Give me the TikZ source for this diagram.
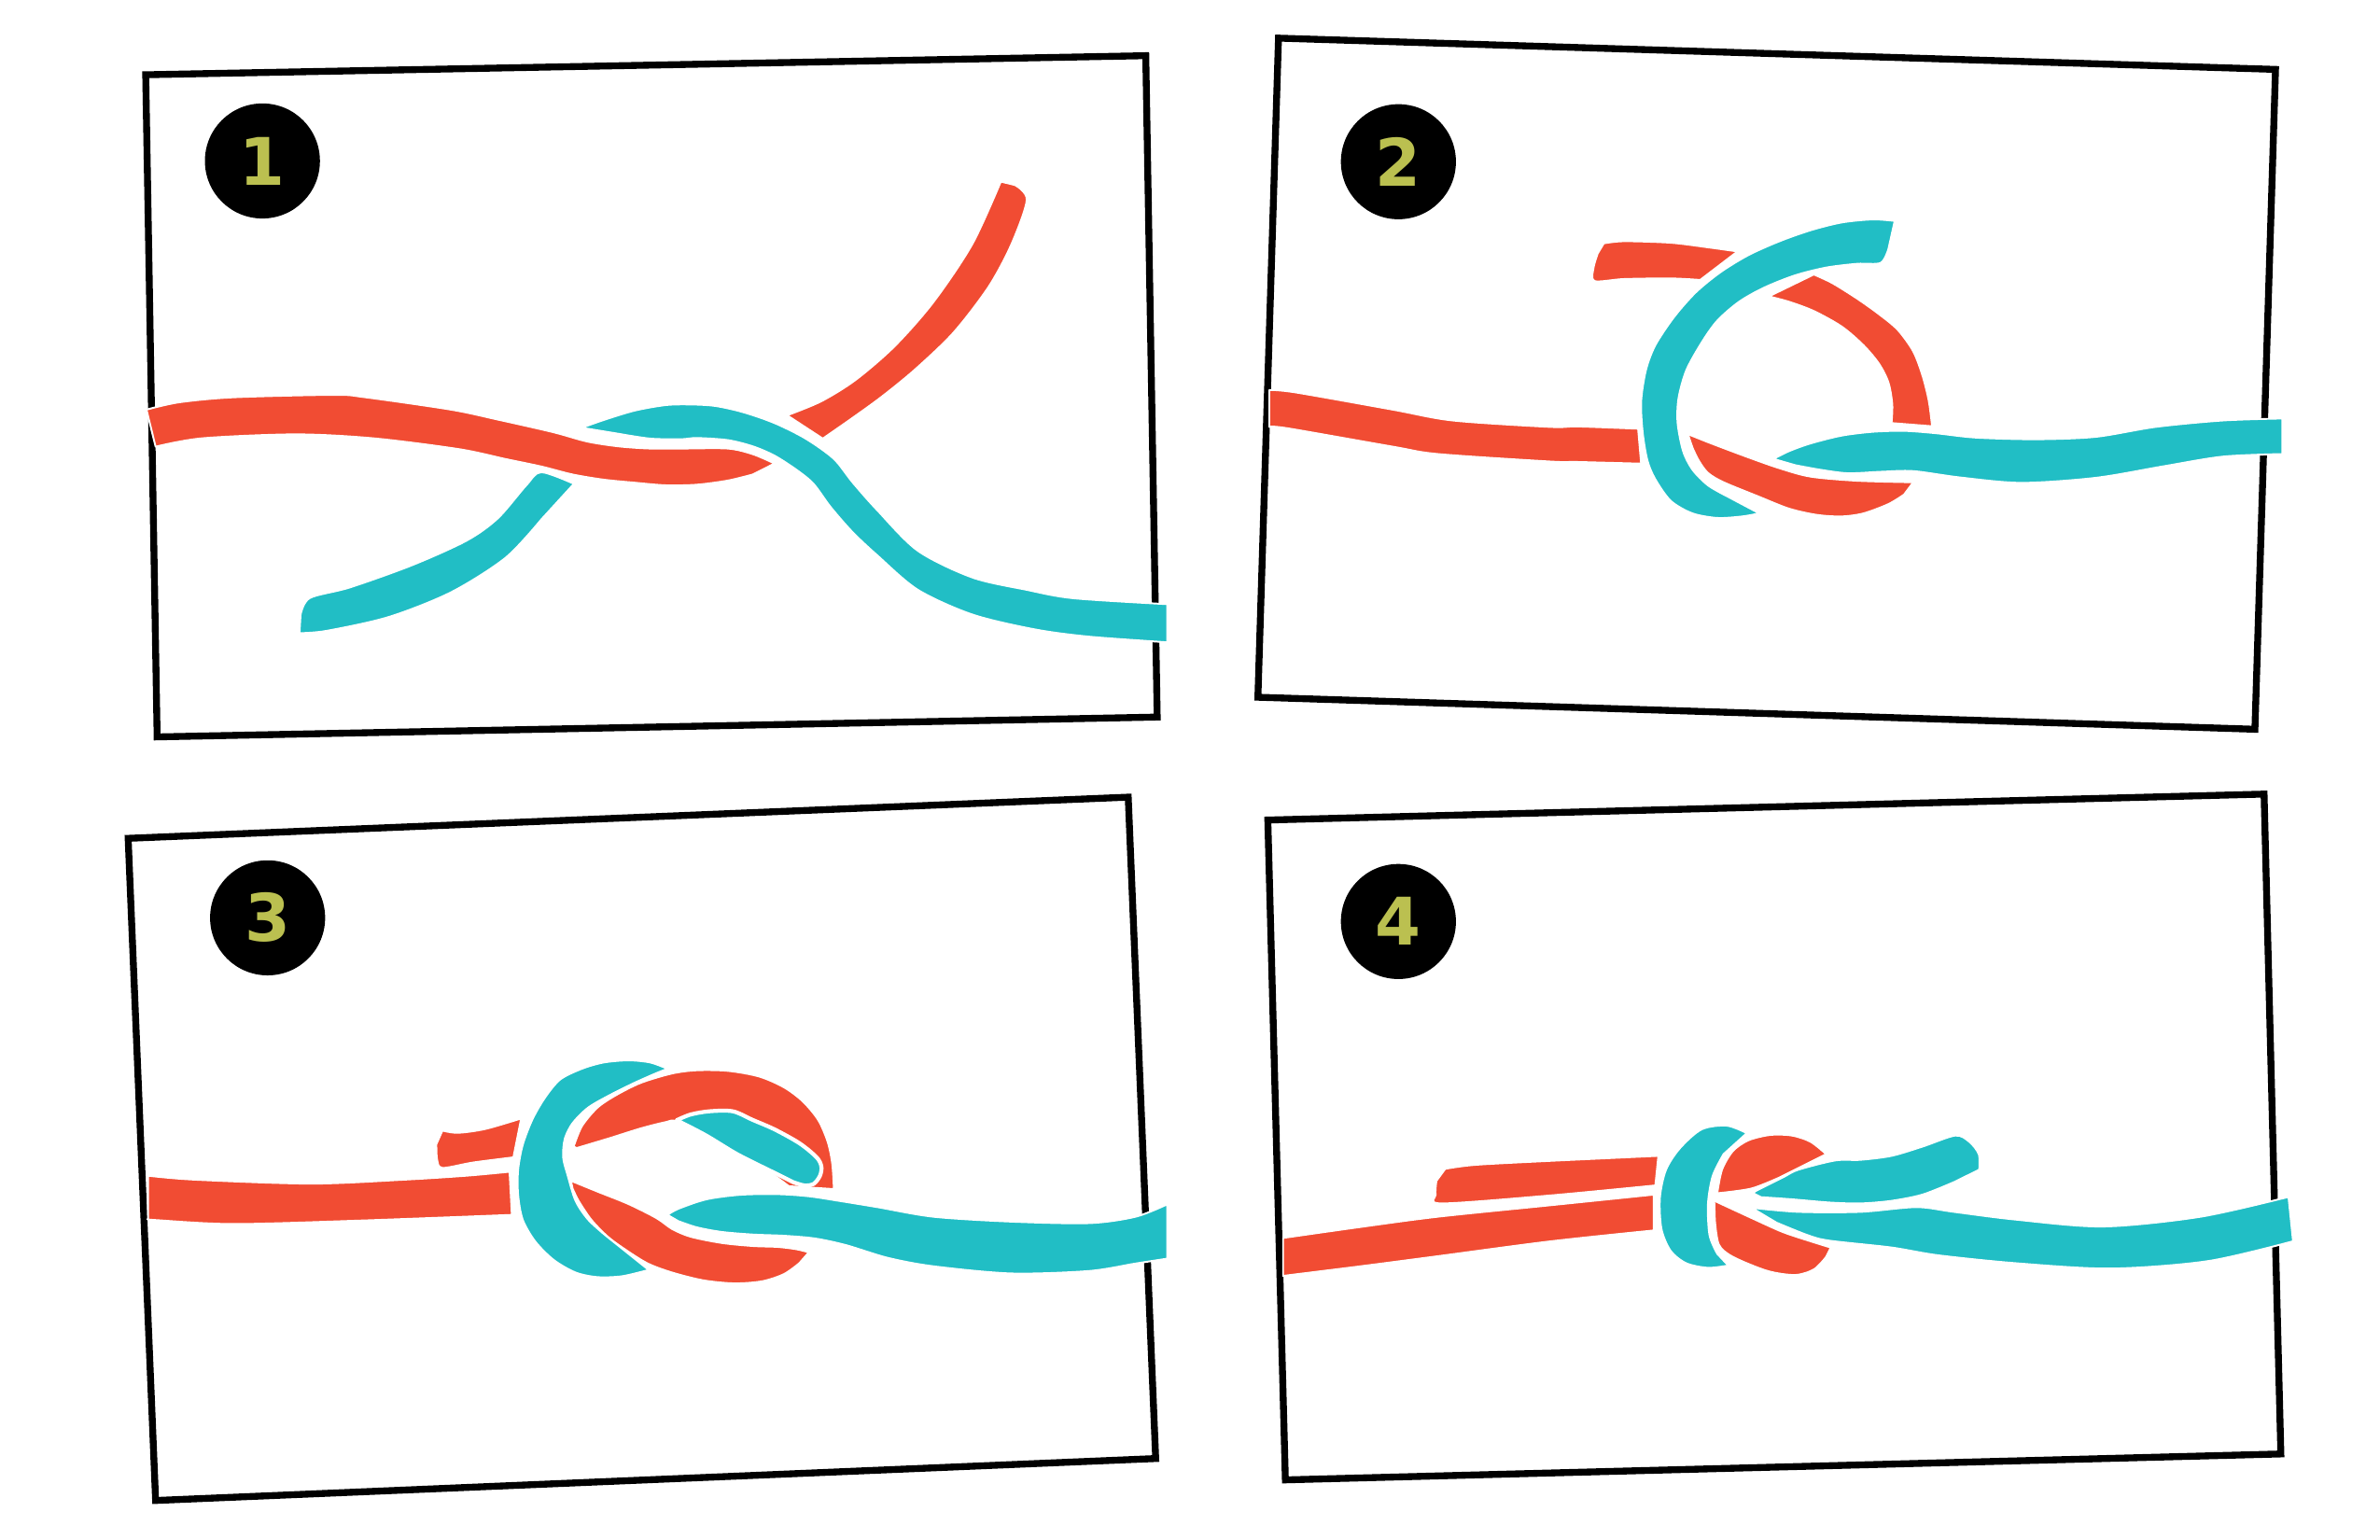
\documentclass[tikz,border=0pt]{standalone}
\usepackage{fontspec}
\newfontfamily\digitfont{DejaVu Sans}
\definecolor{ropered}{RGB}{241,76,51}
\definecolor{ropeteal}{RGB}{33,190,197}
\definecolor{numolive}{RGB}{187,192,80}
\tikzset{
  rope/.style={draw=white, line width=1.2pt, line join=round},
  frame/.style={draw=black, line width=4.5pt, line join=miter},
  badge/.style={circle, fill=black, minimum size=75.4pt, inner sep=0pt,
    text=numolive, font=\digitfont\bfseries\fontsize{43}{43}\selectfont}
}
\newcommand{\ropepiece}[3]{\filldraw[rope, fill=#1] plot[smooth, tension=0.5] coordinates {#2} -- plot[smooth, tension=0.5] coordinates {#3} -- cycle;}
\begin{document}
\begin{tikzpicture}[x=1pt, y=-1pt]
\useasboundingbox (0,0) rectangle (1560,1009.4);
\fill[white] (0,0) rectangle (1560,1009.4);

% ---------- frames ----------
\draw[frame] (95.5,49) -- (751,36.5) -- (758.5,470) -- (103,483) -- cycle;
\draw[frame] (838,25) -- (1491.5,45.5) -- (1478,478) -- (824.5,457) -- cycle;
\draw[frame] (84,549.5) -- (739.5,522.5) -- (757.5,956) -- (102,983.5) -- cycle;
\draw[frame] (831,537.5) -- (1484,520.5) -- (1495,953) -- (842.5,970) -- cycle;

% ---------- badges ----------
\node[badge] (b1) at (172,105.5) {1};
\node[badge] (b2) at (916.6,106) {2};
\node[badge] (b3) at (175.4,601.6) {3};
\node[badge] (b4) at (916.6,604) {4};

% ---------- panel 1 ----------
% teal lower-left end
\ropepiece{ropeteal}{(197,403) (203,392) (229.4,385) (270.2,370.4) (305.9,354.3) (326.3,339.7) (345,318) (354.8,309.5) (376.2,317.1)}
  {(354.8,340.5) (331.4,365.6) (295.7,388.2) (254.9,404.4) (214.1,413.5) (196.3,415)}
% red upper-right end
\ropepiece{ropered}{(515.9,272.2) (538.3,263) (560.8,249) (586.3,227) (611.8,198) (637.3,160) (656,119)}
  {(665.3,121.3) (673,131) (663,160) (648,188) (625,218) (600,242) (578,260) (558.7,274) (539.3,287.5)}
% red main strand
\ropepiece{ropered}{(96,268.5) (117.3,263.7) (153,260.4) (219.2,258.8) (239.6,260.4) (295.7,268.5) (326.3,275) (354.8,281.4) (367,284.4) (385.4,289.5) (405.8,292.6) (426.2,294) (446.6,294) (477.1,294) (493.5,297.7) (507.7,303.8)}
  {(493.5,311) (477.1,315) (456.8,317.7) (436.4,318.1) (416,316.4) (395.6,314.4) (375.2,311) (354.8,305.8) (331.4,300.9) (300.8,294.4) (244.7,287.3) (193.7,284.7) (132.5,287.3) (102,292.8)}
% teal arc and right strand
\ropepiece{ropeteal}{(381.3,280.4) (395.6,275.3) (416,269.1) (436.4,265.5) (452.7,265.1) (469,266.1) (487.3,270.2) (507.7,277.3) (528.1,287.5) (546.5,300.7) (558.7,316) (575,334.4) (601.6,361) (637.3,378.5) (673,386.6) (703.5,392.1) (765,396)}
  {(765,421) (713.7,417.3) (678,412.5) (637.3,402.8) (601.6,386.6) (575,364) (558.7,348.7) (544.4,332.3) (533.2,317.1) (522,307.9) (507.7,298.7) (493.5,292.6) (477.1,288.5) (456.8,287.1) (446.6,287.9) (426.2,287.5) (405.8,284.4)}

% ---------- panel 2 ----------
\ropepiece{ropered}{(832,255.6) (849.2,257.2) (913,268.5) (952.2,275.6) (1015.9,279.8) (1033.9,279.5) (1073.7,281)}
  {(1075.7,303.9) (1033.9,302.8) (1015.9,302.5) (942.4,297.6) (913,292.8) (844.3,280.8) (832,279.8)}
\ropepiece{ropered}{(1051.2,159.5) (1064.5,158.1) (1095.1,159.1) (1119.5,162.1) (1138.9,164.8)}
  {(1114.4,183.5) (1095.1,182.5) (1064.5,182.9) (1045.1,184.2) (1044.5,175.4) (1047.2,166.2)}
\ropepiece{ropered}{(1188.9,179.9) (1201.1,185.6) (1217.4,195.8) (1231.7,206) (1243.9,216.2) (1254.1,230.4) (1260.3,246.8) (1264.3,263.1) (1266.4,279.4)}
  {(1239.8,277.3) (1240.3,265.1) (1237.8,250.8) (1231.7,238.6) (1221.5,226.4) (1207.2,214.1) (1188.9,203.9) (1172.6,197.8) (1159.3,194.3)}
% teal ring
\ropepiece{ropeteal}{(1241.9,144.8) (1227.6,143.8) (1207.2,145.8) (1186.8,150.9) (1166.4,158.1) (1146,167.2) (1127.7,178.4) (1111.4,191.7) (1097.1,208) (1084.9,226.4) (1078.8,242.7) (1075.7,263.1) (1076.7,283.5) (1079.8,301.8) (1084.9,314) (1095.1,328.3) (1109.3,336.5) (1125.7,339.5) (1142,338.5) (1153.2,336.5)}
  {(1131.5,325) (1119.5,318.1) (1109.4,307.9) (1103.2,295.7) (1099.6,277.3) (1100.2,261) (1105.3,242.7) (1115.5,224.3) (1125.7,210.1) (1139.9,197.8) (1156.2,188.6) (1176.6,180.5) (1197,175.4) (1217.4,172.9) (1232.7,172.3) (1237.8,163.1)}
% teal right strand
\ropepiece{ropeteal}{(1162.4,300.8) (1172.6,295.7) (1186.8,290.6) (1207.2,285.5) (1227.6,283) (1248,282.4) (1268.4,283.9) (1295,286.8) (1334.5,287.9) (1373.7,286.3) (1413,279.8) (1457,275.6) (1496,274.3)}
  {(1496,297.6) (1457,299.3) (1417.8,305.7) (1373.7,313.2) (1325,316.5) (1285,313) (1254.1,308.8) (1233.7,309.2) (1211.3,310.2) (1193,307.9) (1176.6,304.9)}
% red lower arc (over teal ring end and strand tip)
\ropepiece{ropered}{(1106.3,284.5) (1121.6,290.6) (1146.1,299.8) (1166.4,306.9) (1186.8,312.4) (1217.4,315.1) (1254.1,316.1)}
  {(1248,324.2) (1237.8,330.4) (1221.5,336.5) (1207.2,338.5) (1190.9,337.5) (1172.6,333.4) (1152.2,325.3) (1129.7,316.1) (1119.5,310) (1113.4,301.8) (1109.4,293.6)}

% ---------- panel 3 ----------
\ropepiece{ropered}{(97,770.6) (127.5,773.2) (204,775.8) (265,773.2) (305.9,770.6) (334,768)}
  {(335.5,796.3) (237,800) (153,802.3) (102,799.7) (97,799)}
\ropepiece{ropered}{(290,741) (300,742.5) (318,740) (341.6,733.1)}
  {(336.5,758.6) (310,762) (290,765.5) (286.5,760) (286,750)}
% teal ring
\ropepiece{ropeteal}{(437.5,700.5) (426.2,696.4) (412,695) (395.7,696.4) (381.4,700.5) (367.1,707.6) (356.9,719.9) (348.8,734.1) (342.6,750.5) (339.6,766.8) (339.6,783.1) (342.6,799.4) (350.8,813.7) (363,825.9) (377.3,834.1) (391.6,837.1) (407.9,836.5) (425.2,832.4)}
  {(396.7,809.6) (385.5,799.4) (377.3,787.2) (372.2,770.8) (369.1,758.6) (370.2,746.4) (375.3,736.2) (385.5,726) (399.7,717.8) (416,709.7) (430,703.5)}
% red upper arc
\ropepiece{ropered}{(376,751.5) (381.4,738.2) (391.6,726) (403.8,717.8) (420.1,709.7) (440.5,703.6) (456.8,701.5) (477.2,701.9) (497.6,705.6) (513.9,712.7) (526.2,721.9) (536.3,734.1) (542.5,748.4) (545.5,762.7) (546.6,779.4)}
  {(517,777.5) (503.7,768) (483.3,757.6) (462.9,745.3) (443.6,735) (436.4,735.5) (420.1,739.6) (399.7,746) (378,752.5)}
% teal inner end
\filldraw[rope, line width=2.6pt, fill=ropeteal] plot[smooth, tension=0.5] coordinates {(443.6,734.2) (452.7,730.5) (465,728.4) (480.3,728.4) (493.5,734.1) (507.8,740.3) (524.1,749.4) (535.3,758.6) (538.4,764.7) (537.4,770.8) (533.3,776) (527.2,777) (520,774.9)}
  -- plot[smooth, tension=0.5] coordinates {(503.7,766.8) (483.3,756.6) (462.9,744.3) (446,735.5)} -- cycle;
% teal right strand
\ropepiece{ropeteal}{(437.5,796.3) (444.6,792.3) (463,786.1) (485.4,783.1) (509.8,782.7) (530.2,784.1) (550.6,787.2) (575.1,791.2) (611.8,797.5) (662.8,800.7) (713.7,801.7) (744.3,797.5) (765,789.4)}
  {(765,825) (744.3,828.2) (713.7,833.1) (662.8,834.7) (611.8,830) (582,824.5) (554.7,816.2) (534.3,811.8) (513.9,810) (493.5,809.2) (473.1,807.5) (456.8,804.5) (444.6,800.4)}
% red lower arc
\ropepiece{ropered}{(374.2,773.9) (391.6,781) (412,789.2) (430.3,798.4) (440.5,805.5) (452.7,810.6) (473.1,814.7) (493.5,816.7) (509.8,817.3) (522,818.8) (530.2,820.8)}
  {(523.9,828) (513.9,835.1) (499.7,839.8) (481.3,841.2) (460.9,839.2) (440.5,834.1) (424.2,828) (407.9,817.7) (397.7,810) (387.5,799.4) (379.3,787.2) (375.3,779)}

% ---------- panel 4 ----------
\ropepiece{ropered}{(947.3,766.1) (966.9,763.5) (1015.9,760.9) (1087,757.6)}
  {(1085,777) (1015.9,783.6) (945,788.8) (941,783) (941.5,774)}
\ropepiece{ropered}{(841,811.4) (893.3,804) (942.4,797.5) (1015.9,790) (1084,783)}
  {(1084,806.5) (1015.9,813.7) (942.4,823.4) (893.3,829.8) (841,836.3)}
% teal crescent
\ropepiece{ropeteal}{(1145,742.7) (1131.8,737.8) (1115.4,740.2) (1101.2,752.5) (1092,766.7) (1088,785) (1089,805.5) (1095,819.8) (1105.2,828) (1119.5,831) (1132.8,829.5)}
  {(1125.6,821.8) (1120.5,809.6) (1119.5,789) (1122.6,770.8) (1129.7,756.5)}
% red inner lenses
\ropepiece{ropered}{(1125.6,782) (1128.7,766.7) (1135.8,754.5) (1146,747.4) (1160.3,743.9) (1174.6,744.3) (1186.8,748.4) (1197,756.5)}
  {(1166.4,771.8) (1148.1,779) (1127,782)}
\ropepiece{ropered}{(1123.6,787) (1148,798.3) (1168.5,807.5) (1186.8,813.6) (1200,817.7)}
  {(1197,823.8) (1189,832) (1176.6,835.7) (1158.3,833) (1135.8,823.8) (1126.6,815.7) (1124,799.4)}
% teal hook
\ropepiece{ropeteal}{(1149,782) (1152,780) (1168.5,771.8) (1178.7,766.7) (1203,760.6) (1219.4,760.2) (1239.8,757.6) (1260.2,751.5) (1281.6,744.3) (1290.8,748.4) (1297,756.5) (1297.3,766.7)}
  {(1280.6,774.9) (1260.2,783) (1239.8,787.1) (1219.4,788.8) (1199,788.2) (1174.6,786.1) (1154.2,784.7)}
% teal main
\ropepiece{ropeteal}{(1148,791.6) (1178.7,794.3) (1219.4,794.3) (1256.1,791.2) (1280.6,794.3) (1321.4,799.4) (1378.6,803.9) (1442.4,797.5) (1500,784.5)}
  {(1503,813.6) (1447.3,826.6) (1383.5,831.5) (1321.4,828) (1270.4,822.8) (1239.8,817.7) (1199,813.2) (1184.8,809.6) (1164.4,801.4)}
\end{tikzpicture}
\end{document}
